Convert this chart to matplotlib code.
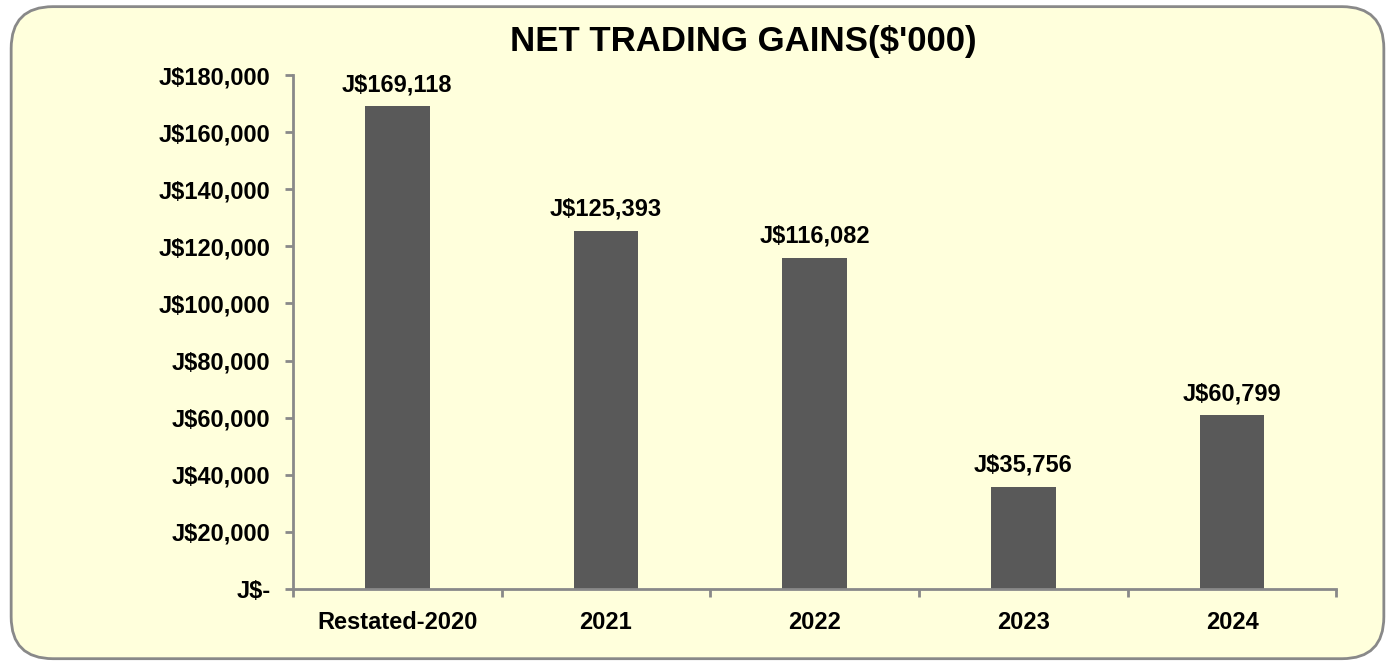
import matplotlib.pyplot as plt
from matplotlib.patches import FancyBboxPatch
from matplotlib.ticker import FuncFormatter, FixedLocator

categories = ['Restated-2020', '2021', '2022', '2023', '2024']
gains = [169118, 125393, 116082, 35756, 60799]

plt.rcParams['font.family'] = ['Liberation Sans', 'DejaVu Sans']
plt.rcParams['font.weight'] = 'bold'

bg = '#FFFFDC'
grey = '#898989'

fig = plt.figure(figsize=(13.95, 6.64), dpi=100)
fig.patch.set_facecolor('white')

# rounded border around the chart area
border = FancyBboxPatch((0.008, 0.008), 0.984, 0.982,
                        boxstyle='round,pad=0,rounding_size=0.03',
                        transform=fig.transFigure, facecolor=bg,
                        edgecolor=grey, linewidth=2, mutation_aspect=1395 / 664,
                        zorder=-5)
fig.patches.append(border)

ax = fig.add_axes([0.210, 0.113, 0.748, 0.774])
ax.set_facecolor('none')

x = range(len(categories))
ax.bar(x, gains, width=0.31, color='#595959', zorder=2)

for x0, y0 in zip(x, gains):
    ax.text(x0, y0 + 3500, 'J$' + format(y0, ','), ha='center', va='bottom',
            fontsize=17, fontweight='bold')

ax.set_xlim(-0.5, len(categories) - 0.5)
ax.set_ylim(0, 180000)
ax.set_yticks(range(0, 180001, 20000))
ax.yaxis.set_major_formatter(FuncFormatter(
    lambda v, p: 'J$-' if v == 0 else 'J$' + format(int(v), ',')))
ax.set_xticks(list(x))
ax.set_xticklabels(categories)
ax.xaxis.set_minor_locator(FixedLocator([i - 0.5 for i in range(len(categories) + 1)]))
ax.tick_params(axis='x', which='major', length=0, pad=16, labelsize=17)
ax.tick_params(axis='x', which='minor', length=6, width=2, color=grey, direction='out')
ax.tick_params(axis='y', length=6, width=2, color=grey, labelsize=17, pad=10)

for s in ['top', 'right']:
    ax.spines[s].set_visible(False)
for s in ['left', 'bottom']:
    ax.spines[s].set_color(grey)
    ax.spines[s].set_linewidth(2)

fig.text(0.533, 0.938, "NET TRADING GAINS($'000)", ha='center', va='center',
         fontsize=25, fontweight='bold')

plt.savefig('out.png', dpi=100)
plt.close()
